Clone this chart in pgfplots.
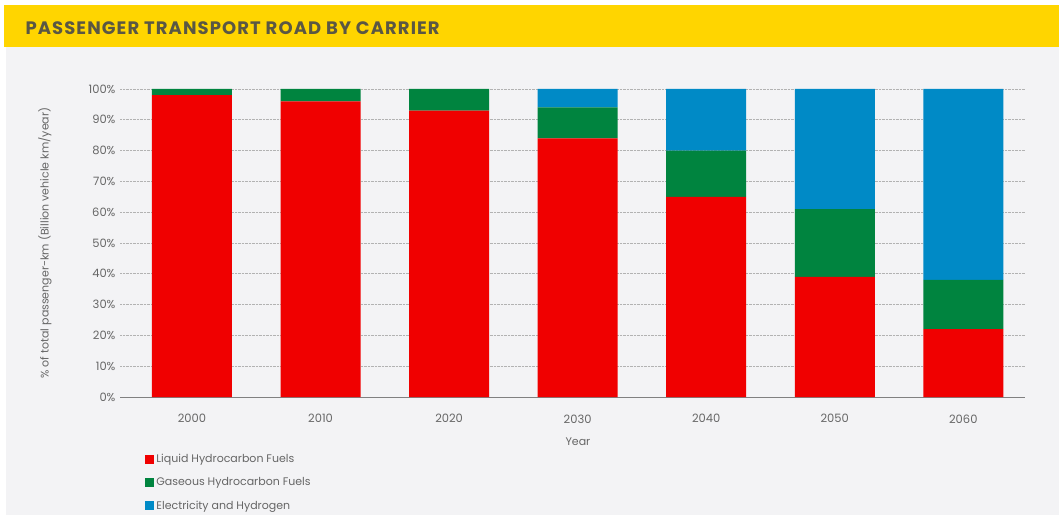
\documentclass[border=0pt]{standalone}
\usepackage{pgfplots}
\pgfplotsset{compat=1.18}
\usepackage{pgfplotstable}
\usepackage{fontspec}
\setmainfont{Poppins}
\newfontfamily\titlefont[LetterSpace=6]{Poppins}

\definecolor{shellyellow}{HTML}{FFD500}
\definecolor{panel}{HTML}{F3F3F5}
\definecolor{liquid}{HTML}{F00000}
\definecolor{gaseous}{HTML}{00843F}
\definecolor{elec}{HTML}{008AC6}
\definecolor{titletext}{HTML}{5A5744}
\definecolor{labeltext}{HTML}{666666}

% share of passenger-km per carrier, in %
\pgfplotstableread{
x liquid gaseous elec
0 98 2 0
1 96 4 0
2 93 7 0
3 84 10 6
4 65 15 20
5 39 22 39
6 22 16 62
}\carrier

\begin{document}
\begin{tikzpicture}
\useasboundingbox (0,0) rectangle (1059pt,519pt);
\fill[white] (0,0) rectangle (1059pt,519pt);
\fill[panel] (6pt,4pt) rectangle (1059pt,472pt);
\fill[shellyellow] (4pt,472pt) rectangle (1059pt,514pt);
\node[anchor=west, text=titletext, font=\titlefont\fontsize{18}{20}\selectfont\bfseries]
  at (22pt,491pt) {PASSENGER TRANSPORT ROAD BY CARRIER};

\begin{axis}[
    at={(120pt,122pt)}, anchor=south west,
    scale only axis,
    width=905pt, height=308pt,
    ybar stacked,
    bar width=80pt,
    xmin=-0.56, xmax=6.48,
    ymin=0, ymax=100,
    xtick={0,...,6},
    xticklabels={2000,2010,2020,2030,2040,2050,2060},
    ytick={0,10,...,100},
    yticklabel={\pgfmathprintnumber{\tick}\%},
    /pgf/number format/assume math mode=true,
    major tick length=0pt,
    axis lines=left,
    y axis line style={draw=none},
    x axis line style={draw=gray, line width=1pt, -},
    ymajorgrids,
    grid style={densely dotted, draw=gray!60, line width=0.8pt},
    tick label style={font=\fontsize{11.5}{13}\selectfont, text=labeltext},
    xticklabel style={yshift=-14pt},
    yticklabel style={xshift=-1pt},
    xlabel={Year},
    xlabel style={font=\fontsize{11}{13}\selectfont, text=labeltext,
        at={(axis description cs:0.506,-0.145)}, anchor=center},
    ylabel={\% of total passenger-km (Billion vehicle km/year)},
    ylabel style={font=\fontsize{11}{13}\selectfont, text=labeltext,
        at={(axis description cs:-0.083,0.5)}, anchor=center},
    legend style={
        at={(0.024,-0.173)}, anchor=north west,
        draw=none, fill=none,
        font=\fontsize{11}{13}\selectfont, text=labeltext,
        row sep=9.5pt,
        legend cell align=left,
    },
    legend image code/.code={\fill[#1] (0pt,-4.5pt) rectangle (9.5pt,4.5pt);},
]
\addplot[fill=liquid, draw=none] table[x=x, y=liquid] {\carrier};
\addlegendentry{Liquid Hydrocarbon Fuels}
\addplot[fill=gaseous, draw=none] table[x=x, y=gaseous] {\carrier};
\addlegendentry{Gaseous Hydrocarbon Fuels}
\addplot[fill=elec, draw=none] table[x=x, y=elec] {\carrier};
\addlegendentry{Electricity and Hydrogen}
\end{axis}
\end{tikzpicture}
\end{document}
